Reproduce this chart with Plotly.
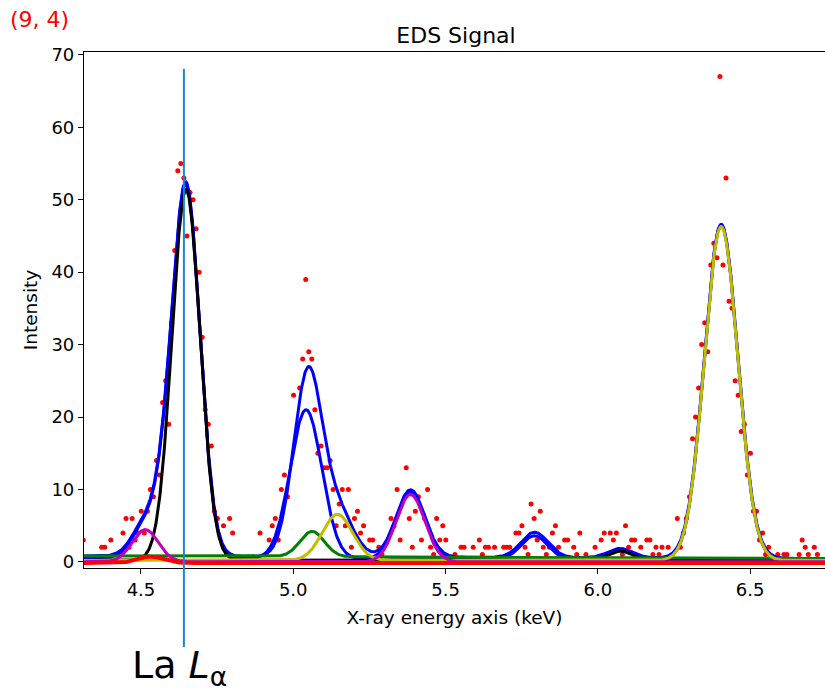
import numpy as np
import plotly.graph_objects as go

# ---- measured spectrum (channel energy in keV, counts) ----
energy = [
    4.311, 4.371, 4.381, 4.401, 4.441, 4.451, 4.461, 4.471, 4.481, 4.491,
    4.501, 4.511, 4.521, 4.531, 4.541, 4.551, 4.561, 4.571, 4.581, 4.591,
    4.601, 4.611, 4.621, 4.631, 4.641, 4.651, 4.661, 4.671, 4.681, 4.691,
    4.701, 4.711, 4.721, 4.731, 4.741, 4.751, 4.771, 4.781, 4.791, 4.801,
    4.891, 4.911, 4.921, 4.931, 4.941, 4.951, 4.961, 4.971, 4.981, 5.001,
    5.021, 5.031, 5.041, 5.051, 5.061, 5.071, 5.081, 5.091, 5.101, 5.111,
    5.121, 5.131, 5.141, 5.151, 5.161, 5.171, 5.181, 5.191, 5.201, 5.211,
    5.221, 5.231, 5.251, 5.261, 5.281, 5.291, 5.321, 5.331, 5.341, 5.351,
    5.371, 5.381, 5.391, 5.401, 5.411, 5.421, 5.431, 5.441, 5.451, 5.461,
    5.471, 5.481, 5.491, 5.501, 5.531, 5.551, 5.561, 5.591, 5.611, 5.621,
    5.631, 5.641, 5.661, 5.691, 5.701, 5.711, 5.731, 5.741, 5.751, 5.761,
    5.771, 5.781, 5.791, 5.801, 5.811, 5.821, 5.831, 5.841, 5.851, 5.861,
    5.871, 5.891, 5.901, 5.921, 5.931, 5.941, 5.961, 5.991, 6.011, 6.021,
    6.041, 6.051, 6.061, 6.081, 6.091, 6.101, 6.111, 6.121, 6.141, 6.161,
    6.171, 6.181, 6.191, 6.201, 6.211, 6.231, 6.261, 6.271, 6.281, 6.291,
    6.301, 6.311, 6.321, 6.331, 6.341, 6.351, 6.361, 6.371, 6.381, 6.391,
    6.401, 6.411, 6.421, 6.431, 6.441, 6.451, 6.461, 6.471, 6.481, 6.491,
    6.501, 6.511, 6.521, 6.531, 6.541, 6.551, 6.561, 6.591, 6.611, 6.621,
    6.661, 6.671, 6.681, 6.691, 6.711, 6.721,
]
counts = [
    3, 2, 2, 3, 4, 6, 2, 6, 3, 4,
    7, 4, 7, 10, 9, 14, 12, 22, 25, 19,
    33, 43, 54, 55, 53, 45, 51, 50, 46, 40,
    31, 21, 19, 16, 7, 6, 5, 1, 6, 4,
    4, 1, 3, 5, 6, 3, 10, 12, 9, 23,
    24, 28, 39, 29, 28, 21, 15, 16, 13, 13,
    14, 10, 5, 8, 10, 5, 10, 2, 6, 7,
    4, 5, 3, 3, 2, 1, 6, 5, 10, 3,
    13, 6, 2, 7, 9, 3, 6, 10, 2, 1,
    6, 3, 5, 3, 1, 2, 2, 2, 3, 1,
    2, 2, 2, 2, 2, 2, 4, 4, 5, 2,
    1, 8, 6, 3, 7, 2, 1, 2, 4, 5,
    2, 3, 3, 2, 1, 4, 1, 2, 3, 4,
    4, 3, 4, 1, 5, 2, 3, 3, 2, 3,
    3, 1, 2, 1, 2, 2, 6, 2, 4, 6,
    9, 17, 20, 24, 30, 33, 29, 41, 44, 42,
    67, 41, 53, 36, 35, 25, 23, 18, 19, 12,
    15, 7, 7, 3, 4, 1, 2, 1, 1, 1,
    1, 3, 2, 1, 2, 1,
]

# ---- fitted model: linear background + Gaussian lines (centre keV, height, sigma keV) ----
bg_energy = [4.313, 6.746]
bg_level = [0.82, 0.45]

black_centre, black_height, black_sigma, black_base = [4.648, 6.073], [51.2, 1.3], [0.046, 0.040], 0.2
magenta_centre, magenta_height, magenta_sigma, magenta_base = [4.514, 5.385], [4.45, 9.3], [0.043, 0.047], 0.0
yellow_centre, yellow_height, yellow_sigma, yellow_base = [5.145, 6.405], [6.35, 46.1], [0.050, 0.055], 0.2
green_centre, green_height, green_sigma = [5.062], [3.5], [0.040]
red_centre, red_height, red_sigma, red_base = [4.530], [0.9], [0.040], -0.15

total_centre = [4.648, 4.575, 4.514, 5.045, 5.062, 5.145, 5.385, 5.792, 6.073, 6.405]
total_height = [51.2, 4.0, 4.45, 22.0, 3.5, 6.35, 9.3, 3.5, 1.3, 46.1]
total_sigma = [0.046, 0.035, 0.043, 0.047, 0.040, 0.050, 0.047, 0.044, 0.040, 0.055]

partial_centre = [4.648, 4.575, 4.514, 5.042, 5.385, 5.792, 6.073, 6.405]
partial_height = [51.2, 4.0, 4.45, 20.6, 9.3, 3.3, 1.3, 46.3]
partial_sigma = [0.046, 0.035, 0.043, 0.052, 0.047, 0.044, 0.040, 0.055]
partial_offset = -0.3

line_energy = 4.641          # La L-alpha marker
x_range = [4.313, 6.746]
y_range = [-0.85, 70.4]

e = np.linspace(x_range[0], x_range[1], 1500)
background = np.interp(e, bg_energy, bg_level)


def gaussians(centres, heights, sigmas):
    out = np.zeros_like(e)
    for c, h, s in zip(centres, heights, sigmas):
        out += h * np.exp(-0.5 * ((e - c) / s) ** 2)
    return out


curves = [
    (background + gaussians(total_centre, total_height, total_sigma), "#0000ff"),
    (background + partial_offset + gaussians(partial_centre, partial_height, partial_sigma), "#0000ff"),
    (black_base + gaussians(black_centre, black_height, black_sigma), "#000000"),
    (background + gaussians(green_centre, green_height, green_sigma), "#008000"),
    (yellow_base + gaussians(yellow_centre, yellow_height, yellow_sigma), "#bfbf00"),
    (magenta_base + gaussians(magenta_centre, magenta_height, magenta_sigma), "#bf00bf"),
    (red_base + gaussians(red_centre, red_height, red_sigma), "#ff0000"),
]

fig = go.Figure()
fig.add_trace(go.Scatter(x=energy, y=counts, mode="markers",
                         marker=dict(color="#ff0000", size=5), showlegend=False))
for y, col in curves:
    fig.add_trace(go.Scatter(x=e, y=y, mode="lines", showlegend=False,
                             line=dict(color=col, width=4 if col == "#ff0000" else 3)))

W, H = 825, 693
L, R, T, B = 84, 0, 52, 125
plot_w, plot_h = W - L - R, H - T - B


def px_to_paper_x(px):
    return (px - L) / plot_w


def px_to_paper_y(py):
    return (H - B - py) / plot_h


line_x = (line_energy - x_range[0]) / (x_range[1] - x_range[0])
line_top = (68.1 - y_range[0]) / (y_range[1] - y_range[0])
fig.add_shape(type="line", xref="paper", yref="paper",
              x0=line_x, x1=line_x, y0=px_to_paper_y(647), y1=line_top,
              line=dict(color="#1f86cc", width=2))

fig.add_annotation(text="La <i>L</i><sub>α</sub>", xref="paper", yref="paper",
                   x=line_x, y=px_to_paper_y(694), xanchor="center", yanchor="bottom",
                   xshift=-4, showarrow=False,
                   font=dict(size=38, color="black", family="DejaVu Sans"))
fig.add_annotation(text="(9, 4)", xref="paper", yref="paper",
                   x=px_to_paper_x(8), y=px_to_paper_y(20), xanchor="left", yanchor="middle",
                   showarrow=False, font=dict(size=22, color="red", family="DejaVu Sans"))

axis_common = dict(showgrid=False, zeroline=False, showline=True, linecolor="black",
                   linewidth=1.2, ticks="outside", ticklen=5, tickwidth=1.2,
                   tickcolor="black", tickfont=dict(size=18, color="black"))

fig.update_layout(
    width=W, height=H, margin=dict(l=L, r=R, t=T, b=B),
    paper_bgcolor="white", plot_bgcolor="white",
    font=dict(family="DejaVu Sans", color="black"),
    title=dict(text="EDS Signal", x=456 / W,
               xanchor="center", y=1 - 35 / H, yanchor="middle",
               font=dict(size=22, color="black")),
    xaxis=dict(range=x_range, tickvals=[4.5, 5.0, 5.5, 6.0, 6.5],
               ticktext=["4.5", "5.0", "5.5", "6.0", "6.5"], mirror=True,
               title=dict(text="X-ray energy axis (keV)", font=dict(size=18.5), standoff=12),
               **axis_common),
    yaxis=dict(range=y_range, tickvals=list(range(0, 71, 10)),
               title=dict(text="Intensity", font=dict(size=18.5), standoff=8),
               **axis_common),
)

fig.write_html("out.html")
